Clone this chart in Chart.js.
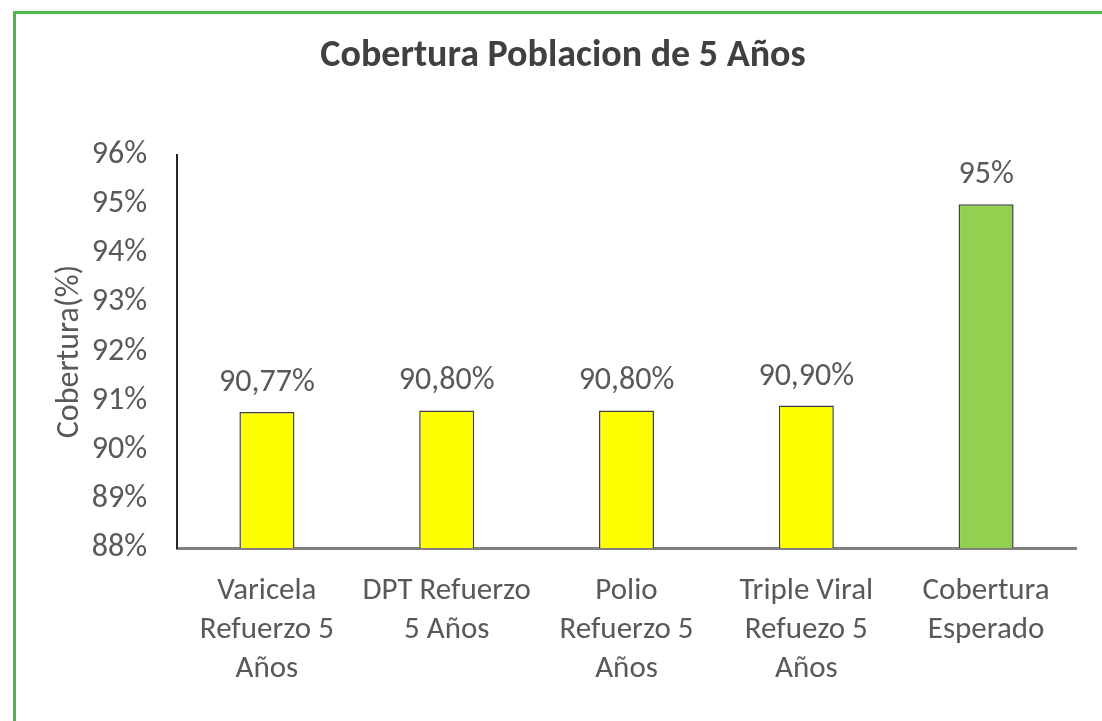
<!DOCTYPE html>
<html>
<head>
<meta charset="utf-8">
<script src="https://cdn.jsdelivr.net/npm/chart.js@4"></script>
<style>
  html, body { margin: 0; padding: 0; background: #ffffff; overflow: hidden; }
  #wrap { position: relative; width: 1102px; height: 721px; }
  #frame { position: absolute; left: 13px; top: 11px; width: 1200px; height: 800px;
           border-top: 3px solid #4fb84a; border-left: 3px solid #4fb84a; }
  canvas { position: absolute; left: 0; top: 0; }
</style>
</head>
<body>
<div id="wrap">
  <div id="frame"></div>
  <canvas id="c" width="1102" height="721"></canvas>
</div>
<script>
const categories = [
  ['Varicela', 'Refuerzo 5', 'Años'],
  ['DPT Refuerzo', '5 Años'],
  ['Polio', 'Refuerzo 5', 'Años'],
  ['Triple Viral', 'Refuezo 5', 'Años'],
  ['Cobertura', 'Esperado']
];
const coverageValues = [90.77, 90.80, 90.80, 90.90, 95];
const barColors = ['#FFFF00', '#FFFF00', '#FFFF00', '#FFFF00', '#92D050'];
const yTicks = [88, 89, 90, 91, 92, 93, 94, 95, 96];

const FONT = 'Carlito, Calibri, Lato, "Open Sans", sans-serif';
const TEXT = '#595959';

function fmtLabel(v) {
  return Number.isInteger(v) ? v + '%' : v.toFixed(2).replace('.', ',') + '%';
}

const dataLabels = {
  id: 'dataLabels',
  afterDatasetsDraw(chart) {
    const ctx = chart.ctx;
    const meta = chart.getDatasetMeta(0);
    ctx.save();
    ctx.font = '32px ' + FONT;
    ctx.fillStyle = TEXT;
    ctx.textAlign = 'center';
    ctx.textBaseline = 'middle';
    meta.data.forEach((el, i) => {
      ctx.fillText(fmtLabel(coverageValues[i]), el.x, el.y - 29);
    });
    ctx.restore();
  }
};

new Chart(document.getElementById('c'), {
  type: 'bar',
  data: {
    labels: categories,
    datasets: [{
      data: coverageValues,
      backgroundColor: barColors,
      borderColor: '#404040',
      borderWidth: 1.5,
      borderSkipped: false,
      categoryPercentage: 1,
      barPercentage: 0.306
    }]
  },
  options: {
    responsive: false,
    animation: false,
    devicePixelRatio: 1,
    layout: { padding: { left: 50, right: 26, top: 0, bottom: 0 } },
    plugins: {
      legend: { display: false },
      tooltip: { enabled: false },
      title: {
        display: true,
        text: 'Cobertura Poblacion de 5 Años',
        color: '#404040',
        font: { family: FONT, size: 38, weight: 'bold', lineHeight: 1.2 },
        padding: { top: 34, bottom: 75.4 }
      }
    },
    scales: {
      x: {
        grid: { display: false, drawTicks: false },
        border: { display: true, color: '#808080', width: 3 },
        ticks: {
          color: TEXT,
          font: { family: FONT, size: 31, lineHeight: 1.26 },
          padding: 24,
          maxRotation: 0,
          autoSkip: false
        },
        afterFit(scale) { scale.height = 173; }
      },
      y: {
        min: 88,
        max: 96,
        afterBuildTicks(scale) { scale.ticks = yTicks.map(v => ({ value: v })); },
        grid: { display: false, drawTicks: false },
        border: { display: true, color: '#262626', width: 2 },
        ticks: {
          color: TEXT,
          font: { family: FONT, size: 32 },
          padding: 30,
          callback: v => v + '%'
        },
        title: {
          display: true,
          text: 'Cobertura(%)',
          color: TEXT,
          font: { family: FONT, size: 32, lineHeight: 1.0 },
          padding: { top: 4, bottom: 0 }
        },
        afterFit(scale) { scale.width = 127; }
      }
    }
  },
  plugins: [dataLabels]
});
</script>
</body>
</html>
